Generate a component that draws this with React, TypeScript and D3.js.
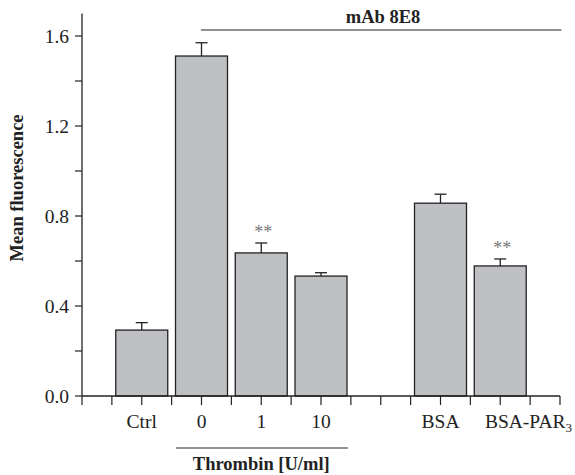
import React from 'react';
import {scaleLinear, range} from 'd3';

const W = 575;
const H = 475;
const categories = ['Ctrl', '0', '1', '10', 'BSA', 'BSA-PAR'];
const slots = [2, 4, 6, 8, 12, 14];
const means = [0.293, 1.511, 0.636, 0.533, 0.857, 0.578];
const errors = [0.033, 0.059, 0.044, 0.015, 0.04, 0.031];
const stars = ['', '', '**', '', '', '**'];
const yTicks = [0, 0.4, 0.8, 1.2, 1.6];

const font = '"Liberation Serif", "Times New Roman", serif';

export default function App() {
  const x = scaleLinear().domain([0, 16]).range([82, 560]);
  const y = scaleLinear().domain([0, 1.7]).range([396, 13.5]);
  const half = 0.87;

  return (
    <svg width={W} height={H} style={{position: 'absolute', left: 0, top: 0, background: '#fff'}} fontFamily={font}>
      {/* y axis */}
      <line x1={82} x2={82} y1={y(1.7)} y2={y(0)} stroke="#222" strokeWidth={1.3} />
      {range(0, 1.61, 0.2).map((t) => (
        <line key={t} x1={75} x2={82} y1={y(t)} y2={y(t)} stroke="#222" strokeWidth={1.2} />
      ))}
      {yTicks.map((t) => (
        <text key={t} x={69} y={y(t)} dy="0.35em" textAnchor="end" fontSize={19.5} fill="#222">{t.toFixed(1)}</text>
      ))}
      <text transform={`translate(23,188) rotate(-90)`} textAnchor="middle" fontSize={18.5} fontWeight="bold" fill="#222">Mean fluorescence</text>

      {/* bars */}
      {slots.map((s, i) => (
        <g key={categories[i]}>
          <line x1={x(s)} x2={x(s)} y1={y(means[i])} y2={y(means[i] + errors[i])} stroke="#222" strokeWidth={1.3} />
          <line x1={x(s) - 6} x2={x(s) + 6} y1={y(means[i] + errors[i])} y2={y(means[i] + errors[i])} stroke="#222" strokeWidth={1.3} />
          <rect x={x(s - half)} y={y(means[i])} width={x(s + half) - x(s - half)} height={y(0) - y(means[i])}
            fill="#bfc0c4" stroke="#222" strokeWidth={1.3} />
          {stars[i] && (
            <text x={x(s) + 2} y={y(means[i] + errors[i]) - 5} textAnchor="middle" fontSize={18} fill="#777">{stars[i]}</text>
          )}
        </g>
      ))}

      {/* x axis */}
      <line x1={x(0)} x2={x(16)} y1={y(0)} y2={y(0)} stroke="#222" strokeWidth={1.3} />
      {range(0, 17).map((t) => (
        <line key={t} x1={x(t)} x2={x(t)} y1={y(0)} y2={y(0) + 9} stroke="#222" strokeWidth={1.2} />
      ))}
      {slots.map((s, i) => (
        i === 5 ? (
          <text key={categories[i]} x={572} y={428} textAnchor="end" fontSize={19.5} fill="#222">
            {categories[i]}
            <tspan fontSize={13} dy={4}>3</tspan>
          </text>
        ) : (
          <text key={categories[i]} x={x(s)} y={428} textAnchor="middle" fontSize={19.5} fill="#222">{categories[i]}</text>
        )
      ))}

      {/* group annotations */}
      <line x1={x(3.15)} x2={x(8.9)} y1={448} y2={448} stroke="#222" strokeWidth={1.2} />
      <text x={x(6)} y={470} textAnchor="middle" fontSize={18.5} fontWeight="bold" fill="#222">Thrombin [U/ml]</text>
      <line x1={x(3.98)} x2={x(16.05)} y1={30} y2={30} stroke="#222" strokeWidth={1.2} />
      <text x={383} y={23} textAnchor="middle" fontSize={18.5} fontWeight="bold" fill="#222">mAb 8E8</text>
    </svg>
  );
}
